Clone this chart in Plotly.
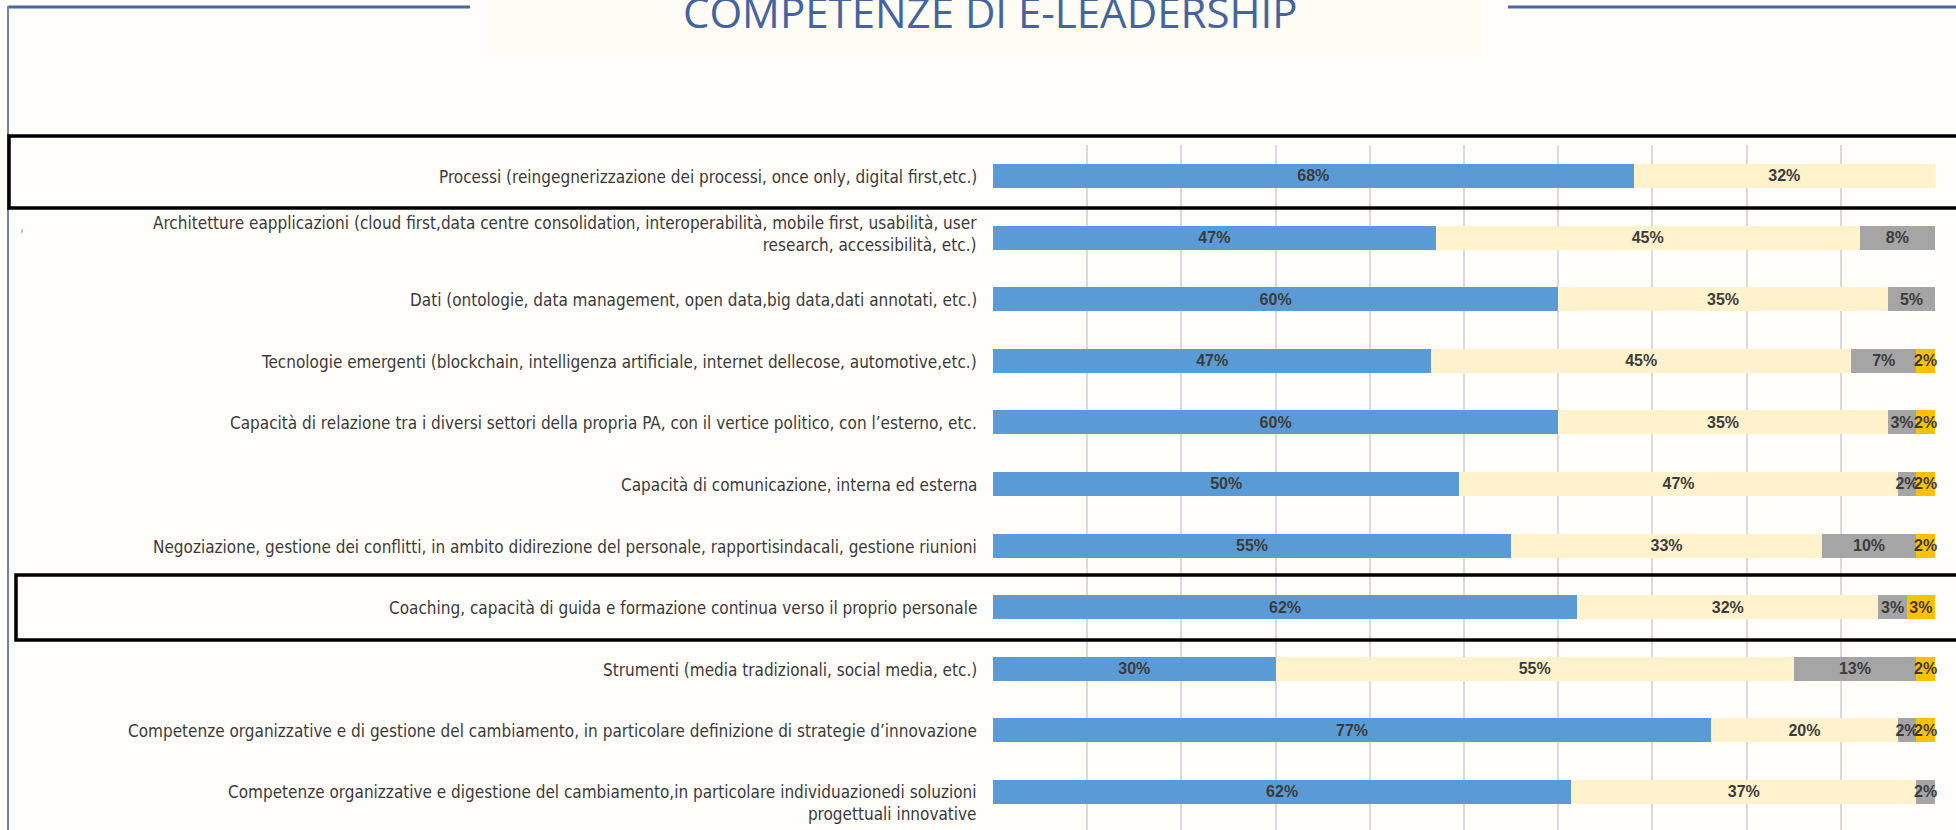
import plotly.graph_objects as go

# ---------------- data ----------------
categories = [
    "Processi (reingegnerizzazione dei processi, once only, digital first,etc.)",
    "Architetture eapplicazioni (cloud first,data centre consolidation, interoperabilità, mobile first, usabilità, user<br>research, accessibilità, etc.)",
    "Dati (ontologie, data management, open data,big data,dati annotati, etc.)",
    "Tecnologie emergenti (blockchain, intelligenza artificiale, internet dellecose, automotive,etc.)",
    "Capacità di relazione tra i diversi settori della propria PA, con il vertice politico, con l’esterno, etc.",
    "Capacità di comunicazione, interna ed esterna",
    "Negoziazione, gestione dei conflitti, in ambito didirezione del personale, rapportisindacali, gestione riunioni",
    "Coaching, capacità di guida e formazione continua verso il proprio personale",
    "Strumenti (media tradizionali, social media, etc.)",
    "Competenze organizzative e di gestione del cambiamento, in particolare definizione di strategie d’innovazione",
    "Competenze organizzative e digestione del cambiamento,in particolare individuazionedi soluzioni<br>progettuali innovative",
]
series_names = ["Molto", "Abbastanza", "Poco", "Per niente"]
molto = [68, 47, 60, 47, 60, 50, 55, 62, 30, 77, 62]
abbastanza = [32, 45, 35, 45, 35, 47, 33, 32, 55, 20, 37]
poco = [0, 8, 5, 7, 3, 2, 10, 3, 13, 2, 2]
per_niente = [0, 0, 0, 2, 2, 2, 2, 3, 2, 2, 0]
title_text = "COMPETENZE DI E-LEADERSHIP"

# ---------------- styles ----------------
colors = ["#5B9BD5", "#FFF2CC", "#A5A5A5", "#FFC000"]
W, H = 1956, 830
L, R, T, B = 993, 21, 145, 0
PW, PH = W - L - R, H - T - B
LABEL_FONT = "Liberation Sans Narrow, DejaVu Sans Condensed, Arial Narrow, sans-serif"
VAL_FONT = "Liberation Sans, Arial, sans-serif"


def px(x):
    return (x - L) / PW


def py(y):
    return (H - B - y) / PH


series = [molto, abbastanza, poco, per_niente]
totals = [sum(vals) for vals in zip(*series)]

fig = go.Figure()
for name, vals, col in zip(series_names, series, colors):
    fig.add_trace(go.Bar(
        y=categories,
        x=[v / t * 100 for v, t in zip(vals, totals)],
        orientation="h",
        name=name,
        marker=dict(color=col, line=dict(width=0)),
        text=[f"{v}%" if v > 0 else "" for v in vals],
        textposition="inside",
        insidetextanchor="middle",
        textangle=0,
        constraintext="none",
        cliponaxis=False,
        textfont=dict(family=VAL_FONT, size=16, color="#3C3C3C", weight="bold"),
        hoverinfo="skip",
    ))

n = len(categories)
fig.update_layout(
    barmode="stack",
    bargap=0.61,
    width=W,
    height=H,
    margin=dict(l=L, r=R, t=T, b=B, pad=0),
    paper_bgcolor="#FFFEFB",
    plot_bgcolor="#FFFEFB",
    showlegend=False,
    xaxis=dict(range=[0, 100], dtick=10, showgrid=True, gridcolor="#D9D9DE",
               gridwidth=2, zeroline=False, showticklabels=False, showline=False,
               fixedrange=True),
    yaxis=dict(type="category", categoryorder="array", categoryarray=categories,
               range=[n - 1 + 0.617, -0.503], showticklabels=False,
               showgrid=False, zeroline=False, showline=False, fixedrange=True),
)

# category labels (right-aligned, left of plot)
annotations = []
for i, c in enumerate(categories):
    last = i == n - 1
    multi = "<br>" in c
    annotations.append(dict(
        xref="paper", yref="y", x=0, y=c, xshift=-14,
        xanchor="right", yanchor="top" if last else "middle",
        yshift=12 if last else (4 if multi else -1),
        text=c, showarrow=False, align="right",
        font=dict(family=LABEL_FONT, size=17, color="#3A3A3A"),
    ))

# title
annotations.append(dict(
    xref="paper", yref="paper", x=px(990), y=py(11), xanchor="center", yanchor="middle",
    text=title_text, showarrow=False,
    font=dict(family="Open Sans, sans-serif", size=42, color="#44649F"),
))
# small stray comma near left border
annotations.append(dict(
    xref="paper", yref="paper", x=px(22), y=py(226), xanchor="center", yanchor="middle",
    text=",", showarrow=False, font=dict(family=LABEL_FONT, size=14, color="#9A9A9A"),
))
fig.update_layout(annotations=annotations)

shapes = []
# faint title backdrop
shapes.append(dict(type="rect", xref="paper", yref="paper", x0=px(488), x1=px(1483),
                   y0=py(56), y1=py(0), fillcolor="#FFFCF5", line=dict(width=0), layer="below"))
# blue frame lines
blue = "#4A64A8"
shapes.append(dict(type="line", xref="paper", yref="paper", x0=px(8), x1=px(470),
                   y0=py(7), y1=py(7), line=dict(color=blue, width=3)))
shapes.append(dict(type="line", xref="paper", yref="paper", x0=px(1508), x1=px(1956),
                   y0=py(7), y1=py(7), line=dict(color=blue, width=3)))
shapes.append(dict(type="line", xref="paper", yref="paper", x0=px(8), x1=px(8),
                   y0=py(6), y1=py(830), line=dict(color="#6C82B8", width=2)))
# black highlight boxes
shapes.append(dict(type="rect", xref="paper", yref="paper", x0=px(9), x1=px(1960),
                   y0=py(208), y1=py(136), line=dict(color="#000000", width=3.5)))
shapes.append(dict(type="rect", xref="paper", yref="paper", x0=px(16), x1=px(1960),
                   y0=py(640), y1=py(575), line=dict(color="#000000", width=3.5)))
fig.update_layout(shapes=shapes)

fig.write_html("out.html", config={"displayModeBar": False},
               post_script="document.body.style.margin='0';")
